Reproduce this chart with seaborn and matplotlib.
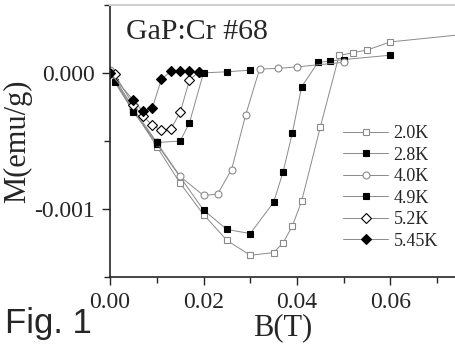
import matplotlib
matplotlib.use("Agg")
import matplotlib.pyplot as plt
from matplotlib.ticker import MultipleLocator, FormatStrFormatter
import seaborn as sns

# field B (T) and magnetization M (emu/g)
b_20 = [0.0, 0.005, 0.01, 0.015, 0.02, 0.025, 0.03, 0.035, 0.037, 0.039, 0.041, 0.045, 0.049, 0.052, 0.055, 0.06, 0.08]
m_20 = [0.0, -0.00027, -0.00054, -0.00081, -0.00104, -0.00123, -0.00134, -0.00132, -0.00125, -0.001125, -0.00094, -0.000395, 0.00013, 0.00015, 0.00017, 0.00023, 0.0003]

b_28 = [0.0, 0.005, 0.01, 0.02, 0.025, 0.03, 0.035, 0.037, 0.039, 0.041, 0.0445, 0.047, 0.05, 0.06]
m_28 = [0.0, -0.00028, -0.00052, -0.001007, -0.00115, -0.00118, -0.00095, -0.00073, -0.00044, -0.0001, 0.00008, 0.000088, 0.0001, 0.000132]

b_40 = [0.0, 0.005, 0.01, 0.015, 0.02, 0.023, 0.026, 0.029, 0.032, 0.036, 0.04, 0.05]
m_40 = [0.00002, -0.00026, -0.00051, -0.00076, -0.0009, -0.00089, -0.00071, -0.00031, 0.00003, 0.000035, 0.000046, 0.00008]

b_49 = [0.001, 0.005, 0.01, 0.015, 0.017, 0.02, 0.025, 0.03]
m_49 = [-0.000064, -0.000285, -0.00051, -0.0005, -0.000365, 0.000002, 0.00001, 0.000022]

b_52 = [0.001, 0.005, 0.007, 0.009, 0.011, 0.013, 0.015, 0.017, 0.019]
m_52 = [-0.00001, -0.000235, -0.000314, -0.000382, -0.00042, -0.000412, -0.000289, -0.0000515, 0.00001]

b_545 = [0.0, 0.005, 0.007, 0.009, 0.011, 0.013, 0.015, 0.017, 0.019]
m_545 = [0.0, -0.0002, -0.00028, -0.00026, -0.000046, 0.000015, 0.000015, 0.000015, 0.00001]

labels = ["2.0K", "2.8K", "4.0K", "4.9K", "5.2K", "5.45K"]

sns.set_style("ticks")
plt.rcParams["font.family"] = ["Liberation Serif", "DejaVu Serif"]
plt.rcParams["axes.unicode_minus"] = False

fig = plt.figure(figsize=(4.55, 3.45), dpi=100)
ax = fig.add_axes([0.2418, 0.197, 0.7582, 0.788])

line_col = "#8a8a8a"
styles = [
    (b_20, m_20, "s", "white", line_col, 4.5),
    (b_28, m_28, "s", "black", "black", 4.8),
    (b_40, m_40, "o", "white", line_col, 5.0),
    (b_49, m_49, "s", "black", "black", 4.8),
    (b_52, m_52, "D", "white", "black", 5.0),
    (b_545, m_545, "D", "black", "black", 5.0),
]
for (b, m, mk, fc, ec, ms), lab in zip(styles, labels):
    sns.lineplot(x=b, y=m, sort=False, ax=ax, color=line_col, lw=0.7,
                 marker=mk, markersize=ms, markerfacecolor=fc,
                 markeredgecolor=ec, markeredgewidth=0.8, label=lab)

ax.set_xlim(0, 0.0738)
ax.set_ylim(-0.0015, 0.0005)
ax.xaxis.set_major_locator(MultipleLocator(0.02))
ax.xaxis.set_minor_locator(MultipleLocator(0.01))
ax.yaxis.set_major_locator(MultipleLocator(0.001))
ax.yaxis.set_minor_locator(MultipleLocator(0.0005))
ax.xaxis.set_major_formatter(FormatStrFormatter("%.2f"))
ax.yaxis.set_major_formatter(FormatStrFormatter("%.3f"))
ax.tick_params(which="major", direction="out", length=6, width=1, labelsize=17, pad=5)
ax.tick_params(which="minor", direction="out", length=4, width=1)
ax.tick_params(axis="x", which="both", top=False)
ax.tick_params(axis="y", which="both", right=False)

ax.spines["right"].set_visible(False)
ax.spines["top"].set_color("#d0d0d0")
ax.spines["top"].set_linewidth(1.5)
ax.spines["left"].set_linewidth(1.2)
ax.spines["bottom"].set_linewidth(1.2)

ax.set_xlabel("B(T)", fontsize=22, labelpad=0)
ax.set_ylabel("M(emu/g)", fontsize=22, labelpad=1)

ax.text(0.045, 0.9, "GaP:Cr #68", transform=ax.transAxes, fontsize=21.5, va="center")

ax.legend(loc="upper left", bbox_to_anchor=(343 / 455, 1 - 125 / 345),
          bbox_transform=fig.transFigure, frameon=False, fontsize=13,
          handlelength=2.5, handletextpad=0.3, labelspacing=0.25, borderpad=0,
          borderaxespad=0)

fig.text(0.01, 0.015, "Fig. 1", fontsize=25, family=["Liberation Sans", "DejaVu Sans"], va="bottom")

fig.savefig("out.png", dpi=100)
